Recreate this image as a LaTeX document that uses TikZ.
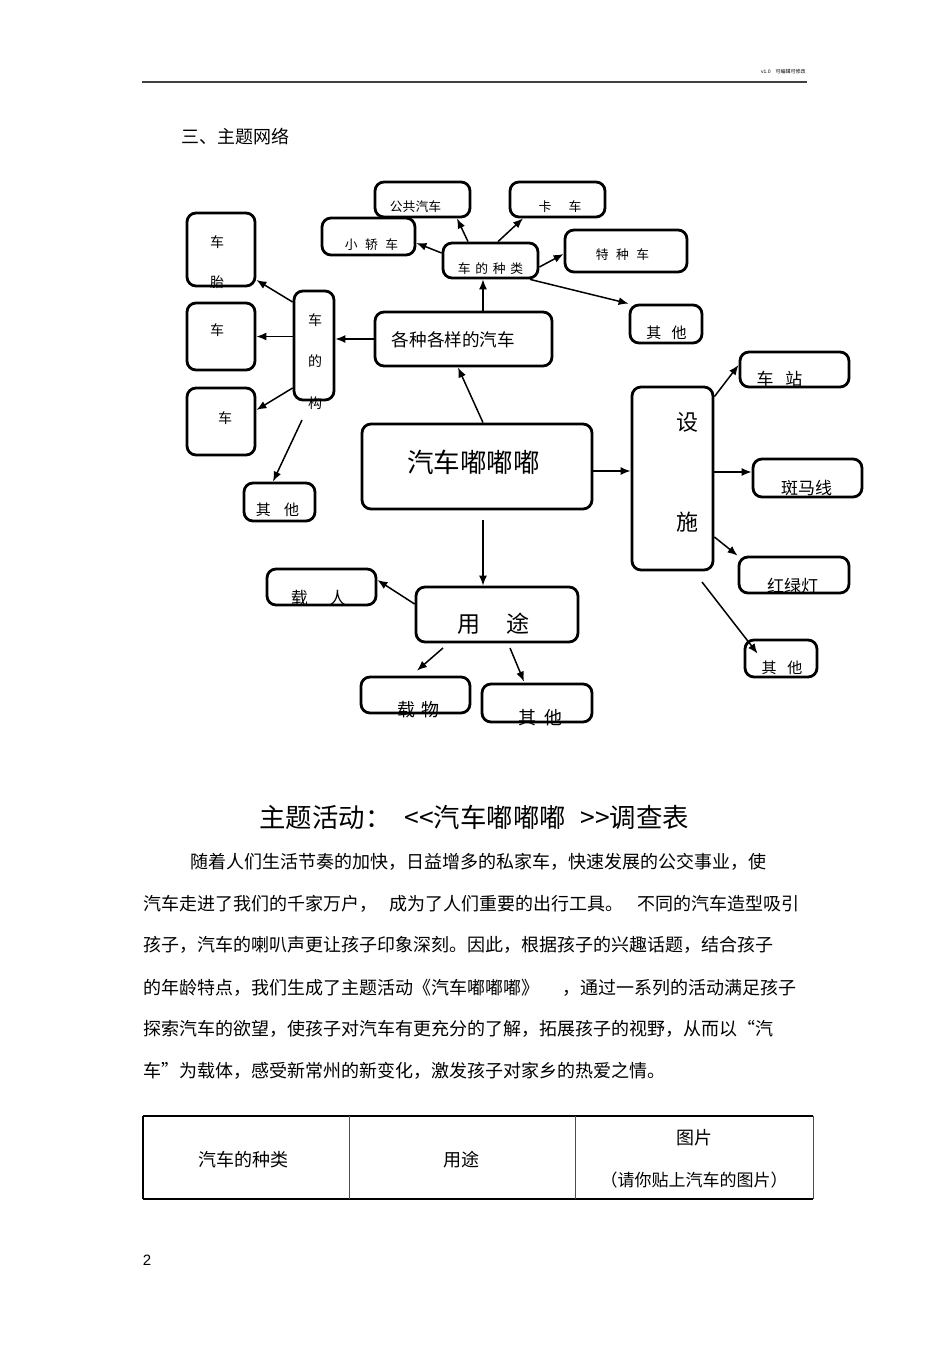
\documentclass[tikz,border=0pt]{standalone}
\usepackage{fontspec}
\newfontfamily\cjk{Noto Sans CJK SC}
\newfontfamily\latin{Liberation Sans}
\usetikzlibrary{arrows.meta}

\begin{document}
\begin{tikzpicture}[x=0.5pt, y=-0.5pt,
    box/.style={draw, rounded corners=4.5pt, line width=1.4pt, inner sep=0pt},
    lbl/.style={inner sep=0pt, font=\cjk\fontsize{#1}{#1}\selectfont},
    lbl/.default=7pt,
    arr/.style={-{Latex[length=5pt,width=4pt]}, line width=0.75pt}]
    \useasboundingbox (0,0) rectangle (950,1345);

    % Page head
    \draw[line width=0.8pt, black!75] (142,82) -- (807,82);
    \node[lbl=2.5pt, anchor=east] (ver) at (806,72) {{\latin v1.0}\hspace{1em}可编辑可修改};
    \node[lbl=9pt, anchor=west] (sec) at (181,137) {三、主题网络};

    % Centre
    \node[box, minimum width=115pt, minimum height=42.5pt] (main) at (477,466.5) {};
    \node[lbl=13.3pt] (main-t) at (473.5,462) {汽车嘟嘟嘟};

    % Kinds of cars
    \node[box, minimum width=88.5pt, minimum height=27pt] (variety) at (463.5,339) {};
    \node[lbl=8.8pt] (variety-t) at (453.5,340) {各种各样的汽车};
    \node[box, minimum width=47.5pt, minimum height=17.5pt] (kinds) at (490.5,260.5) {};
    \node[lbl=6.4pt] (kinds-t) at (490.5,269) {车\hspace{.37em}的\hspace{.37em}种\hspace{.37em}类};
    \node[box, minimum width=47.5pt, minimum height=17.5pt] (bus) at (422.5,199.5) {};
    \node[lbl=6.4pt] (bus-t) at (415.5,207) {公共汽车};
    \node[box, minimum width=47.5pt, minimum height=17.5pt] (truck) at (557.5,199.5) {};
    \node[lbl=6.4pt] (truck-t) at (560,207) {卡\hspace{1.35em}车};
    \node[box, minimum width=46.5pt, minimum height=18.5pt] (car) at (368.5,236.5) {};
    \node[lbl=6.4pt] (car-t) at (371.5,245) {小\hspace{.58em}轿\hspace{.58em}车};
    \node[box, minimum width=61pt, minimum height=21pt] (special) at (626,251) {};
    \node[lbl=6.4pt] (special-t) at (622.5,255) {特\hspace{.58em}种\hspace{.58em}车};
    \node[box, minimum width=36pt, minimum height=19pt] (other1) at (666,324) {};
    \node[lbl=7.5pt] (other1-t) at (666.5,333) {其\hspace{.67em}他};

    % Parts of a car
    \node[box, minimum width=20pt, minimum height=54.5pt] (struct) at (314,345.5) {};
    \node[lbl, align=center] (struct-t) at (315,361.5) {车\\[13.75pt]的\\[13.75pt]构};
    \node[box, minimum width=34pt, minimum height=36.5pt] (tire) at (221,249.5) {};
    \node[lbl, align=center] (tire-t) at (217,262) {车\\[13pt]胎};
    \node[box, minimum width=34pt, minimum height=33.5pt] (part1) at (221,336.5) {};
    \node[lbl] (part1-t) at (217,330) {车};
    \node[box, minimum width=34pt, minimum height=33.5pt] (part2) at (221,421.5) {};
    \node[lbl] (part2-t) at (225,418) {车};
    \node[box, minimum width=35.5pt, minimum height=19pt] (other2) at (279.5,502) {};
    \node[lbl=7.5pt] (other2-t) at (277.5,510) {其\hspace{.87em}他};

    % Facilities
    \node[box, minimum width=40.5pt, minimum height=91.5pt] (facility) at (672.5,478.5) {};
    \node[lbl=11pt, align=center] (facility-t) at (687,472) {设\\[39pt]施};
    \node[box, minimum width=54.5pt, minimum height=17.5pt] (station) at (794.5,369.5) {};
    \node[lbl=8.5pt] (station-t) at (779.5,379) {车\hspace{.7em}站};
    \node[box, minimum width=54.5pt, minimum height=19pt] (zebra) at (807.5,478) {};
    \node[lbl=8.5pt] (zebra-t) at (806.5,488) {斑马线};
    \node[box, minimum width=55pt, minimum height=18pt] (light) at (794,575) {};
    \node[lbl=8.5pt] (light-t) at (792.5,586) {红绿灯};
    \node[box, minimum width=36pt, minimum height=18.5pt] (other3) at (781,658.5) {};
    \node[lbl=7.5pt] (other3-t) at (782,668) {其\hspace{.73em}他};

    % Uses
    \node[box, minimum width=81pt, minimum height=27.5pt] (use) at (497,614.5) {};
    \node[lbl=11.5pt] (use-t) at (493.5,624) {用\hspace{1.17em}途};
    \node[box, minimum width=54.5pt, minimum height=18pt] (people) at (321.5,587) {};
    \node[lbl=8.5pt] (people-t) at (318.5,598) {载\hspace{1.25em}人};
    \node[box, minimum width=54.5pt, minimum height=18pt] (goods) at (415.5,695) {};
    \node[lbl=9pt] (goods-t) at (418.5,710) {载\hspace{.3em}物};
    \node[box, minimum width=55pt, minimum height=19pt] (other4) at (537,703) {};
    \node[lbl=9pt] (other4-t) at (540.5,718) {其\hspace{.45em}他};

    % Connectors
    \draw[arr] ([shift={(-22.5,0)}]kinds.north) -- ([shift={(34.5,0)}]bus.south);
    \draw[arr] ([shift={(7.5,0)}]kinds.north) -- ([shift={(-34.5,0)}]truck.south);
    \draw[arr] ([shift={(0,-7.5)}]kinds.west) -- ([shift={(0,6.5)}]car.east);
    \draw[arr] ([shift={(0,6.5)}]kinds.east) -- ([shift={(0,3)}]special.west);
    \draw[arr] ([shift={(39.5,0)}]kinds.south) -- (other1.north west);
    \draw[arr] ([shift={(19.5,0)}]variety.north) -- ([shift={(-7.5,0)}]kinds.south);
    \draw[arr] (variety.west) -- (variety.west -| struct.east);
    \draw[arr] ([shift={(0,-43.5)}]struct.west) -- ([shift={(0,30.5)}]tire.east);
    \draw[arr] (part1.east -| struct.west) -- (part1.east);
    \draw[arr] ([shift={(0,42.5)}]struct.west) -- ([shift={(0,-11.5)}]part2.east);
    \coordinate (o2-from) at (302,420);
    \draw[arr] (o2-from) -- ([shift={(-6.5,0)}]other2.north);
    \draw[arr] ([shift={(6,0)}]main.north) -- ([shift={(-5.5,0)}]variety.south);
    \draw[arr] ([shift={(0,4.5)}]main.east) -- ([shift={(0,-7.5)}]facility.west);
    \coordinate (use-from) at (483,520);
    \draw[arr] (use-from) -- (use-from |- use.north);
    \draw[arr] ([shift={(0,11)}]facility.north east) -- ([shift={(0,-4.5)}]station.west);
    \draw[arr] ([shift={(0,-6.5)}]facility.east) -- ([shift={(0,-6)}]zebra.west);
    \draw[arr] ([shift={(0,58.5)}]facility.east) -- (light.north west);
    \coordinate (o3-from) at (702,582);
    \draw[arr] (o3-from) -- ([shift={(14,15)}]other3.north west);
    \draw[arr] ([shift={(0,-10.5)}]use.west) -- ([shift={(0,-7)}]people.east);
    \coordinate (goods-from) at (443,648);
    \draw[arr] (goods-from) -- ([shift={(1.5,-5)}]goods.north);
    \coordinate (o4-from) at (510,648);
    \draw[arr] (o4-from) -- ([shift={(-13,-1)}]other4.north);

    % Survey text
    \node[lbl=13.2pt, anchor=west] (title) at (259,817) {主题活动：\hspace{.5em}\mbox{<}\mbox{<}汽车嘟嘟嘟\hspace{.55em}\mbox{>}\mbox{>}调查表};
    \node[lbl=9pt, anchor=west] (p1) at (190,862) {随着人们生活节奏的加快，日益增多的私家车，快速发展的公交事业，使};
    \node[lbl=9pt, anchor=west] (p2) at (143,904) {汽车走进了我们的千家万户，\hspace{.7em}成为了人们重要的出行工具。\hspace{.75em}不同的汽车造型吸引};
    \node[lbl=9pt, anchor=west] (p3) at (143,945) {孩子，汽车的喇叭声更让孩子印象深刻。因此，根据孩子的兴趣话题，结合孩子};
    \node[lbl=9pt, anchor=west] (p4) at (143,988) {的年龄特点，我们生成了主题活动《汽车嘟嘟嘟》\hspace{1.3em}，通过一系列的活动满足孩子};
    \node[lbl=9pt, anchor=west] (p5) at (143,1029) {探索汽车的欲望，使孩子对汽车有更充分的了解，拓展孩子的视野，从而以“汽};
    \node[lbl=9pt, anchor=west] (p6) at (143,1071) {车”为载体，感受新常州的新变化，激发孩子对家乡的热爱之情。};

    % Table
    \draw[line width=1.2pt] (143,1116) -- (813,1116);
    \draw[line width=0.8pt] (143,1199) -- (813,1199);
    \draw[line width=1.4pt] (143,1116) -- (143,1199);
    \draw[line width=0.5pt, black!70] (349,1116) -- (349,1199) (575,1116) -- (575,1199) (813,1116) -- (813,1199);
    \node[lbl=9pt] (col1) at (243,1160) {汽车的种类};
    \node[lbl=9pt] (col2) at (461,1160) {用途};
    \node[lbl=9pt] (col3) at (694,1138) {图片};
    \node[lbl=8.5pt] (col3-b) at (694,1180) {（请你贴上汽车的图片）};

    \node[lbl=7.5pt, font=\latin\fontsize{7.5pt}{7.5pt}\selectfont] (page) at (147,1260) {2};
\end{tikzpicture}
\end{document}
